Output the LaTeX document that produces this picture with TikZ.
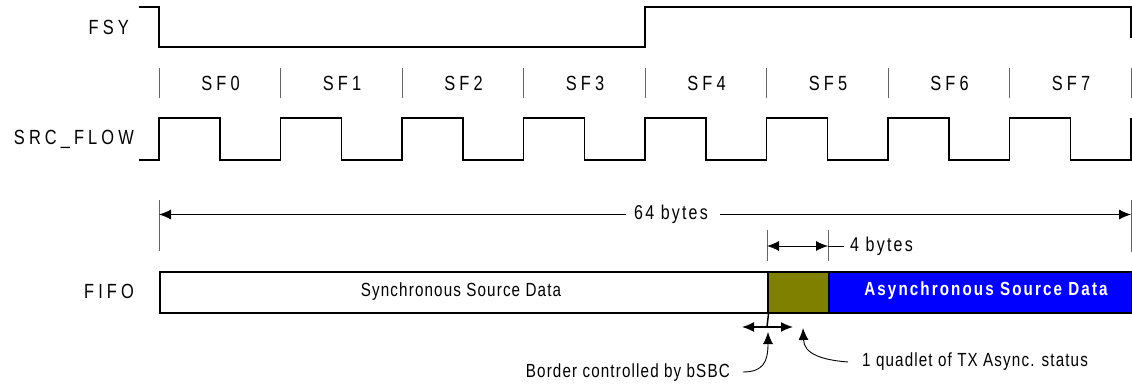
\documentclass[tikz,border=0pt]{standalone}
\usepackage{fontspec}
\setmainfont{Liberation Sans}[FakeStretch=0.8]
\newfontfamily\lblfont{Liberation Sans}[FakeStretch=0.8, LetterSpace=20]
\newfontfamily\capfont{Liberation Sans}[FakeStretch=0.8, LetterSpace=6]
\newfontfamily\dimfont{Liberation Sans}[FakeStretch=0.8, LetterSpace=11]
\newfontfamily\asyfont{Liberation Sans}[FakeStretch=0.8, LetterSpace=11]
\usetikzlibrary{arrows.meta}
\definecolor{olivebox}{HTML}{808000}
\definecolor{bluebox}{HTML}{0000FF}
\begin{document}
\begin{tikzpicture}[x=1pt,y=-1pt, line join=miter,
  wave/.style={line width=1.5pt},
  tickline/.style={line width=0.9pt, black!60},
  dimline/.style={line width=0.9pt},
  tip/.style={-{Latex[length=12pt,width=10pt]}},
  twotip/.style={{Latex[length=12pt,width=10pt]}-{Latex[length=12pt,width=10pt]}},
  lbl/.style={inner sep=0pt, font=\fontsize{20.5}{24}\lblfont},
  captxt/.style={inner sep=0pt, font=\fontsize{19}{22}\capfont},
  dimtxt/.style={inner sep=0pt, font=\fontsize{20}{23}\dimfont},
  asy/.style={inner sep=0pt, text=white, font=\fontsize{19}{22}\asyfont\bfseries},
  fifobox/.style={draw=black, line width=1.5pt, minimum height=41pt, inner sep=0pt, anchor=north west}]
\useasboundingbox (0,0) rectangle (1132,383);

% FSY
\node[lbl, anchor=east] (fsy) at (129,27.5) {FSY};
\draw[wave] (139,7) -- (159,7) -- (159,47) -- (645,47) -- (645,7) -- (1131,7) -- (1131,38);

% SF ticks and labels
\foreach \i in {0,...,8} \draw[tickline] (159+121.5*\i,68) -- (159+121.5*\i,98);
\foreach \i in {0,...,7} \node[lbl] (sf\i) at (159+121.5*\i+61.5,83) {SF\i};

% SRC_FLOW
\node[lbl, anchor=east] (srcflow) at (134,139.5) {SRC\_FLOW};
\draw[wave] (139,160) -- (159,160)
  \foreach \i in {0,...,7} { -- ++(0,-42) -- ++(60.75,0) -- ++(0,42) -- ++(60.75,0) }
  -- ++(0,-42);

% 64 bytes
\draw[tickline] (159,200) -- (159,251);
\draw[tickline] (1131,200) -- (1131,252);
\coordinate (L64) at (159,214.5);
\coordinate (R64) at (1131,214.5);
\node[dimtxt] (b64) at (671,214.5) {64 bytes};
\draw[dimline, tip] ([xshift=-8pt]b64.west) -- (L64);
\draw[dimline, tip] ([xshift=12pt]b64.east) -- (R64);

% 4 bytes
\draw[tickline] (767,230) -- (767,261);
\draw[tickline] (828,230) -- (828,261);
\coordinate (A4) at (767,246);
\coordinate (B4) at (828,246);
\node[dimtxt, anchor=west] (b4) at (850,246) {4 bytes};
\draw[dimline, twotip] (A4) -- (B4);
\draw[dimline] (B4) -- ([xshift=-6pt]b4.west);

% FIFO
\node[lbl, anchor=east] (fifo) at (134,291.5) {FIFO};
\node[fifobox, fill=white, minimum width=608pt] (sync) at (159,271) {};
\node[fifobox, fill=olivebox, minimum width=61pt] (quad) at (767,271) {};
\node[fifobox, fill=bluebox, minimum width=303pt] (async) at (828,271) {};
\node[captxt] (synctxt) at (461,291.5) {Synchronous Source Data};
\node[asy] (asytxt) at (986,291) {Asynchronous Source Data};

% border marker
\coordinate (bd) at (767,327);
\coordinate (bdl) at (742,327);
\coordinate (bdr) at (793,327);
\draw[line width=1.5pt] (sync.south east) -- (bd);
\draw[line width=1.5pt, twotip] (bdl) -- (bdr);

% annotations
\node[captxt, anchor=east] (border) at (730,373) {Border controlled by bSBC};
\coordinate (c1) at (743,372);
\coordinate (t1) at (768,332);
\draw[dimline, tip] (c1) .. controls (763,372) and (768,362) .. (t1);

\node[captxt, anchor=west] (quadtxt) at (862,362) {1 quadlet of TX Async. status};
\coordinate (c2) at (848,362);
\coordinate (t2) at (803,328);
\draw[dimline, tip] (c2) .. controls (822,360) and (804,354) .. (t2);
\end{tikzpicture}
\end{document}
